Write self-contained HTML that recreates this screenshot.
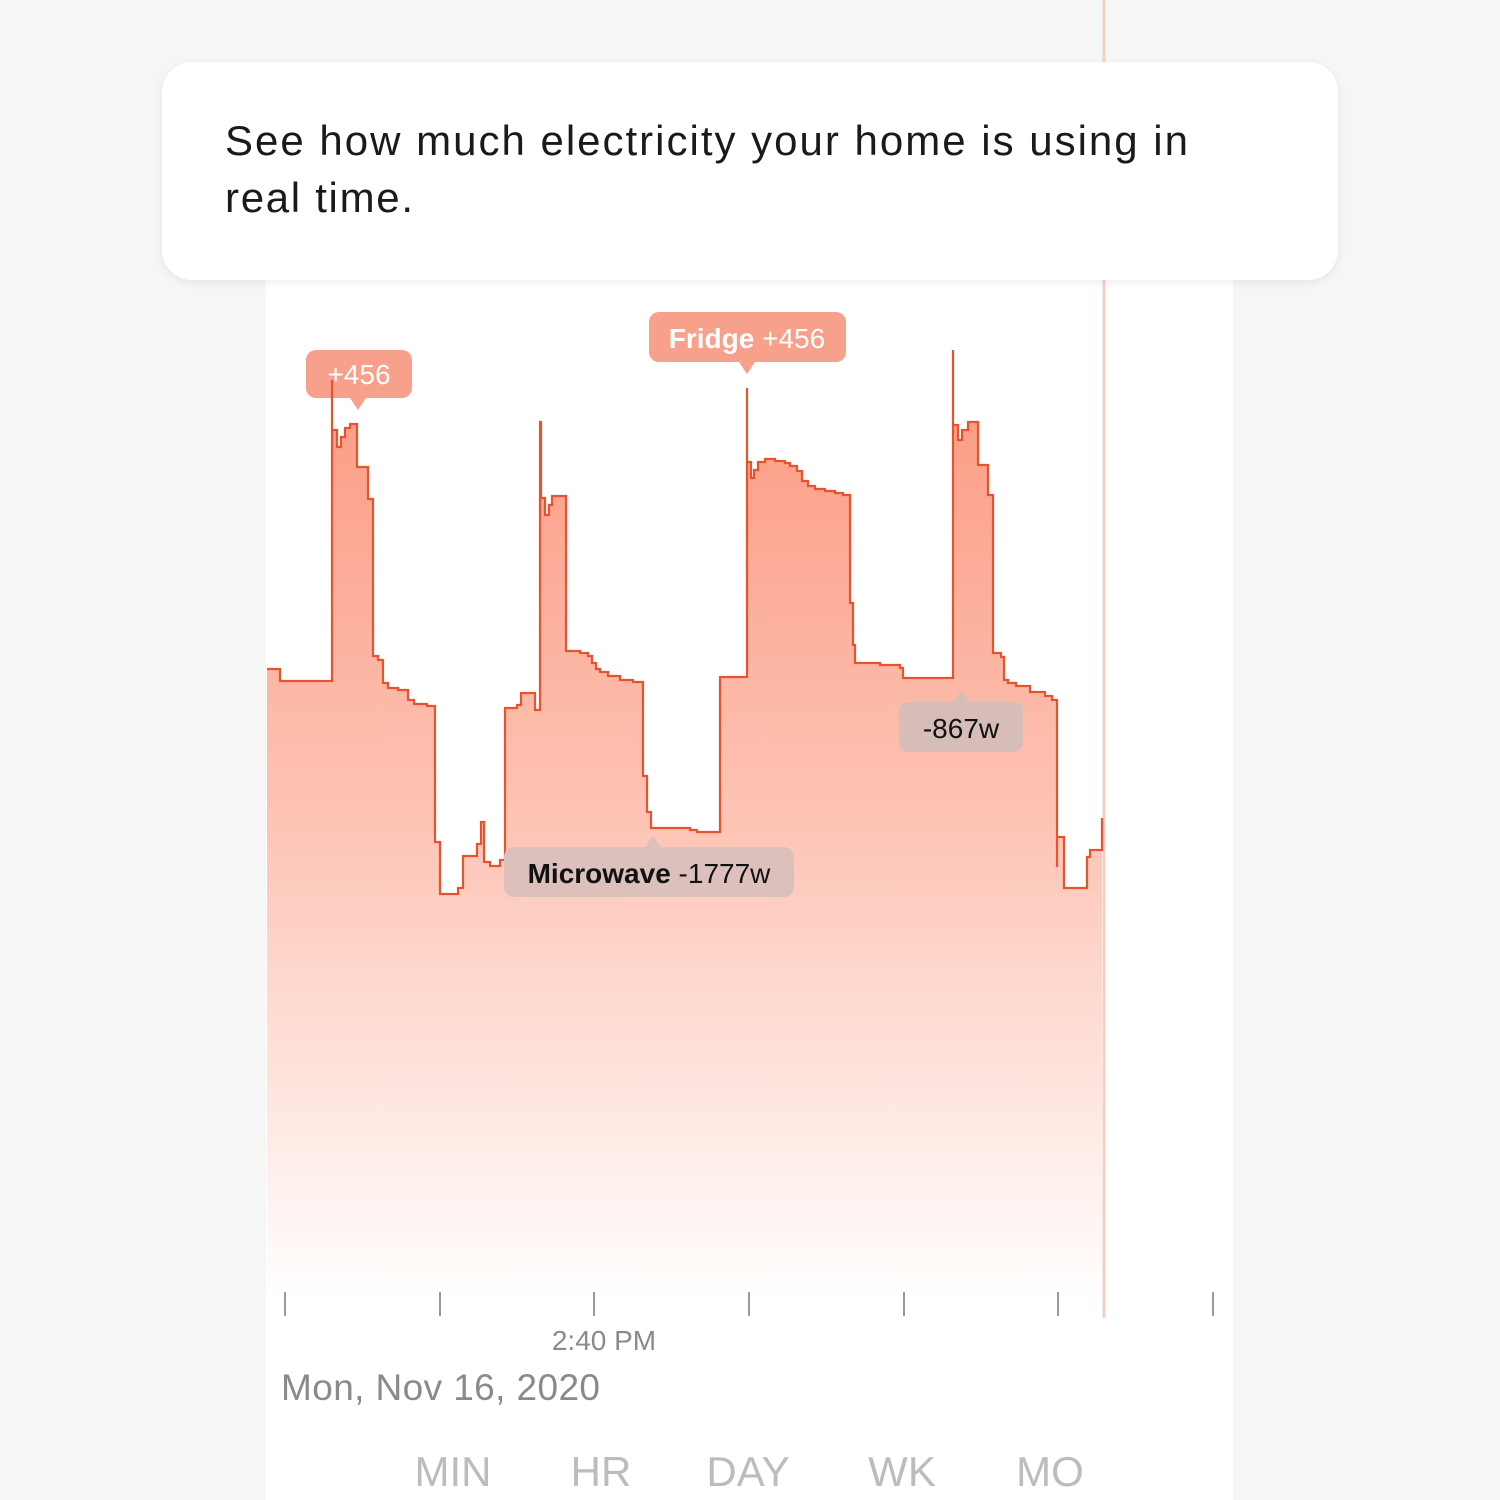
<!DOCTYPE html>
<html><head><meta charset="utf-8"><style>
html,body{margin:0;padding:0;width:1500px;height:1500px;background:#f6f6f6;overflow:hidden;font-family:"Liberation Sans",sans-serif}
</style></head><body>
<svg width="1500" height="1500" xmlns="http://www.w3.org/2000/svg" style="position:absolute;left:0;top:0">
<defs>
<linearGradient id="g" gradientUnits="userSpaceOnUse" x1="0" y1="350" x2="0" y2="1300">
<stop offset="0" stop-color="#fb9880"/>
<stop offset="0.5" stop-color="#fdc4b5"/>
<stop offset="1" stop-color="#ffffff"/>
</linearGradient>
<filter id="sh" x="-5%" y="-20%" width="110%" height="140%"><feDropShadow dx="0" dy="2" stdDeviation="4" flood-color="#000" flood-opacity="0.08"/></filter>
</defs>
<rect x="266" y="250" width="967" height="1250" fill="#fff"/>
<line x1="1104" y1="0" x2="1104" y2="1318" stroke="#f7cec4" stroke-width="3"/>
<path d="M267,669 H280 V681 H332 V380 V430 H337 V447 H341 V437 H345 V428 H350 V424 H357 V467 H368 V499 H373 V656 H378 V660 H383 V683 H388 V688 H398 V690 H408 V700 H414 V704 H427 V706 H435 V842 H440 V894 H458 V888 H463 V856 H477 V844 H481 V822 H484 V862 H490 V866 H500 V860 H505 V708 H517 V705 H521 V693 H535 V710 H540 V422 H541 V498 H545 V515 H549 V505 H552 V496 H566 V651 H580 V653 H588 V656 H592 V663 H596 V669 H600 V672 H608 V676 H620 V680 H633 V682 H643 V776 H647 V812 H651 V828 H690 V830 H697 V832 H720 V677 H747 V388 V462 H751 V478 H754 V470 H758 V462 H765 V459 H775 V461 H785 V463 H790 V466 H797 V471 H802 V481 H808 V486 H815 V489 H825 V491 H835 V493 H843 V495 H850 V603 H853 V645 H855 V663 H880 V665 H900 V668 H903 V678 H953 V350 V425 H958 V440 H962 V430 H968 V422 H978 V465 H988 V495 H993 V653 H1001 V657 H1004 V680 H1008 V683 H1016 V686 H1030 V692 H1045 V696 H1052 V700 H1057 V867 V837 H1064 V888 H1087 V857 H1090 V850 H1102 V818 V1300 H267 Z" fill="url(#g)"/>
<path d="M267,669 H280 V681 H332 V380 V430 H337 V447 H341 V437 H345 V428 H350 V424 H357 V467 H368 V499 H373 V656 H378 V660 H383 V683 H388 V688 H398 V690 H408 V700 H414 V704 H427 V706 H435 V842 H440 V894 H458 V888 H463 V856 H477 V844 H481 V822 H484 V862 H490 V866 H500 V860 H505 V708 H517 V705 H521 V693 H535 V710 H540 V422 H541 V498 H545 V515 H549 V505 H552 V496 H566 V651 H580 V653 H588 V656 H592 V663 H596 V669 H600 V672 H608 V676 H620 V680 H633 V682 H643 V776 H647 V812 H651 V828 H690 V830 H697 V832 H720 V677 H747 V388 V462 H751 V478 H754 V470 H758 V462 H765 V459 H775 V461 H785 V463 H790 V466 H797 V471 H802 V481 H808 V486 H815 V489 H825 V491 H835 V493 H843 V495 H850 V603 H853 V645 H855 V663 H880 V665 H900 V668 H903 V678 H953 V350 V425 H958 V440 H962 V430 H968 V422 H978 V465 H988 V495 H993 V653 H1001 V657 H1004 V680 H1008 V683 H1016 V686 H1030 V692 H1045 V696 H1052 V700 H1057 V867 V837 H1064 V888 H1087 V857 H1090 V850 H1102 V818" fill="none" stroke="#e8532f" stroke-width="2.2"/>
<g stroke="#9a9a9a" stroke-width="2">
<line x1="285" y1="1292" x2="285" y2="1316"/><line x1="440" y1="1292" x2="440" y2="1316"/><line x1="594" y1="1292" x2="594" y2="1316"/><line x1="749" y1="1292" x2="749" y2="1316"/><line x1="904" y1="1292" x2="904" y2="1316"/><line x1="1058" y1="1292" x2="1058" y2="1316"/><line x1="1213" y1="1292" x2="1213" y2="1316"/>
</g>
<text x="604" y="1350" font-size="28" fill="#8a8a8a" text-anchor="middle">2:40 PM</text>
<text x="281" y="1400" font-size="37" fill="#8a8a8a" textLength="319">Mon, Nov 16, 2020</text>
<g font-size="42" fill="#bcbcbc" text-anchor="middle">
<text x="453" y="1486">MIN</text><text x="601" y="1486">HR</text><text x="748" y="1486">DAY</text><text x="902" y="1486">WK</text><text x="1050" y="1486">MO</text>
</g>
<rect x="306" y="350" width="106" height="48" rx="10" fill="#f7a08b"/>
<path d="M350,398 L358,410 L366,398Z" fill="#f7a08b"/>
<text x="359" y="384" font-size="28" fill="#fff" text-anchor="middle">+456</text>
<line x1="332" y1="380" x2="332" y2="398" stroke="#e8532f" stroke-width="2.2"/>
<rect x="649" y="312" width="197" height="50" rx="10" fill="#f7a08b"/>
<path d="M739,362 L747,374 L755,362Z" fill="#f7a08b"/>
<text x="747" y="348" font-size="28" fill="#fff" text-anchor="middle"><tspan font-weight="bold">Fridge</tspan> +456</text>
<rect x="504" y="847" width="290" height="50" rx="10" fill="#dcc0bb"/>
<path d="M645,847 L653,836 L661,847Z" fill="#dcc0bb"/>
<text x="649" y="883" font-size="28" fill="#111" text-anchor="middle"><tspan font-weight="bold">Microwave</tspan> -1777w</text>
<rect x="899" y="702" width="124" height="50" rx="10" fill="#d6bdb8"/>
<path d="M953,702 L961,690 L969,702Z" fill="#d6bdb8"/>
<text x="961" y="738" font-size="28" fill="#111" text-anchor="middle">-867w</text>
<rect x="162" y="62" width="1176" height="218" rx="30" fill="#fff" filter="url(#sh)"/>
<text x="225" y="155" font-size="42" fill="#1a1a1a" textLength="963">See how much electricity your home is using in</text>
<text x="225" y="212" font-size="42" fill="#1a1a1a" textLength="188">real time.</text>
</svg>
</body></html>
